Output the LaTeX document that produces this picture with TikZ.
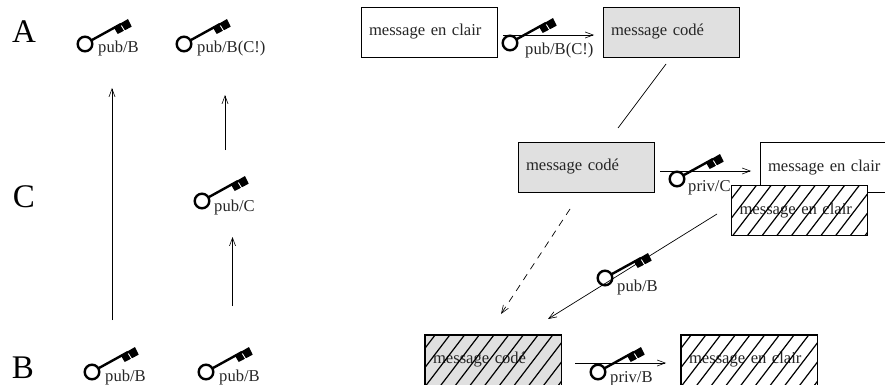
\documentclass[tikz,border=0pt]{standalone}
\usepackage{fontspec}
\setmainfont{Liberation Serif}
\usetikzlibrary{calc,arrows.meta}
\tikzset{
  msgbox/.style={draw=black,line width=0.8pt,minimum width=136pt,minimum height=50pt,inner sep=0pt,text width=120pt,align=left,font=\fontsize{16.6}{20}\selectfont,text=black!85},
  plain/.style={msgbox,fill=white},
  coded/.style={msgbox,fill=black!12},
  arr/.style={line width=0.7pt,-{Straight Barb[length=8pt,width=6pt,line width=0.6pt]}},
  dasharr/.style={arr,dash pattern=on 7pt off 6pt},
  bigletter/.style={inner sep=0pt,anchor=base,font=\fontsize{33}{35}\selectfont},
  keylabel/.style={inner sep=0pt,anchor=base west,font=\fontsize{16.6}{19}\selectfont,text=black!85},
  keyicon/.pic={
    \draw[line width=2.4pt] (0,0) circle [radius=7.3pt];
    \draw[line width=2.4pt] (7,-4) -- (36,-20);
    \fill (28.7,-16.7) -- (43,-25) -- (46.7,-17.3) -- (32.7,-10) -- cycle;
    \draw[white,line width=0.9pt] (36.3,-18.5) -- (40,-12.5);
  }
}
\newcommand{\hatchover}[1]{%
  \begin{scope}
    \clip (#1.south west) rectangle (#1.north east);
    \foreach \s in {-72.1,-57.4,...,150}
      \draw[line width=1.2pt] ($(#1.south west)+(\s,0)$) -- ++(55,-72);
  \end{scope}
  \draw[line width=0.9pt] (#1.south west) rectangle (#1.north east);
}
\begin{document}
\begin{tikzpicture}[x=1pt,y=-1pt]
\useasboundingbox (0,0) rectangle (885,385);
% left column letters
\node[bigletter] (la) at (24,43) {A};
\node[bigletter] (lc) at (24,207) {C};
\node[bigletter] (lb) at (23,378) {B};
% left keys
\pic at (85,44) {keyicon};
\node[keylabel] (k1) at (98,53) {pub/B};
\pic at (184,44) {keyicon};
\node[keylabel] (k2) at (197,53) {pub/B(C!)};
\pic at (202,201) {keyicon};
\node[keylabel] (k3) at (214,211) {pub/C};
\pic at (92,372) {keyicon};
\node[keylabel] (k4) at (105,381) {pub/B};
\pic at (206,372) {keyicon};
\node[keylabel] (k5) at (219,381) {pub/B};
% left arrows
\coordinate (a1s) at (112,320); \coordinate (a1e) at (112,88);
\coordinate (a2s) at (225,150); \coordinate (a2e) at (225,95);
\coordinate (a3s) at (232.5,306); \coordinate (a3e) at (232.5,237);
\draw[arr] (a1s) -- (a1e);
\draw[arr] (a2s) -- (a2e);
\draw[arr] (a3s) -- (a3e);
% boxes
\node[plain] (b1) at (429,32) {message en clair};
\node[coded] (b2) at (671,32) {message codé};
\node[coded] (b3) at (586,167) {message codé};
\node[plain] (b4) at (828,167.5) {message en clair};
\node[plain] (b5) at (799.5,210.5) {message en clair};
\hatchover{b5}
\node[coded] (b6) at (493,360) {message codé};
\hatchover{b6}
\node[plain] (b7) at (749,360) {message en clair};
\hatchover{b7}
% top key + arrow
\coordinate (t1s) at (503,35); \coordinate (t1e) at (594,35);
\draw[arr] (t1s) -- (t1e);
\pic at (510,43) {keyicon};
\node[keylabel] (k6) at (525,55) {pub/B(C!)};
% link
\coordinate (l1s) at (666,64); \coordinate (l1e) at (618,128);
\draw[line width=0.7pt] (l1s) -- (l1e);
% middle key + arrow
\coordinate (m1s) at (660,171); \coordinate (m1e) at (751,171);
\draw[arr] (m1s) -- (m1e);
\pic at (677,179) {keyicon};
\node[keylabel] (k7) at (688,191) {priv/C};
% diagonals
\coordinate (d1s) at (570,209); \coordinate (d1e) at (501,314);
\draw[dasharr] (d1s) -- (d1e);
\coordinate (d2s) at (717,214); \coordinate (d2e) at (548,319);
\draw[arr] (d2s) -- (d2e);
\pic at (605,278) {keyicon};
\node[keylabel] (k8) at (617,291) {pub/B};
% bottom key + arrow
\coordinate (b1s) at (575,363); \coordinate (b1e) at (666,363);
\draw[arr] (b1s) -- (b1e);
\pic at (598,372) {keyicon};
\node[keylabel] (k9) at (610,382) {priv/B};
\end{tikzpicture}
\end{document}
